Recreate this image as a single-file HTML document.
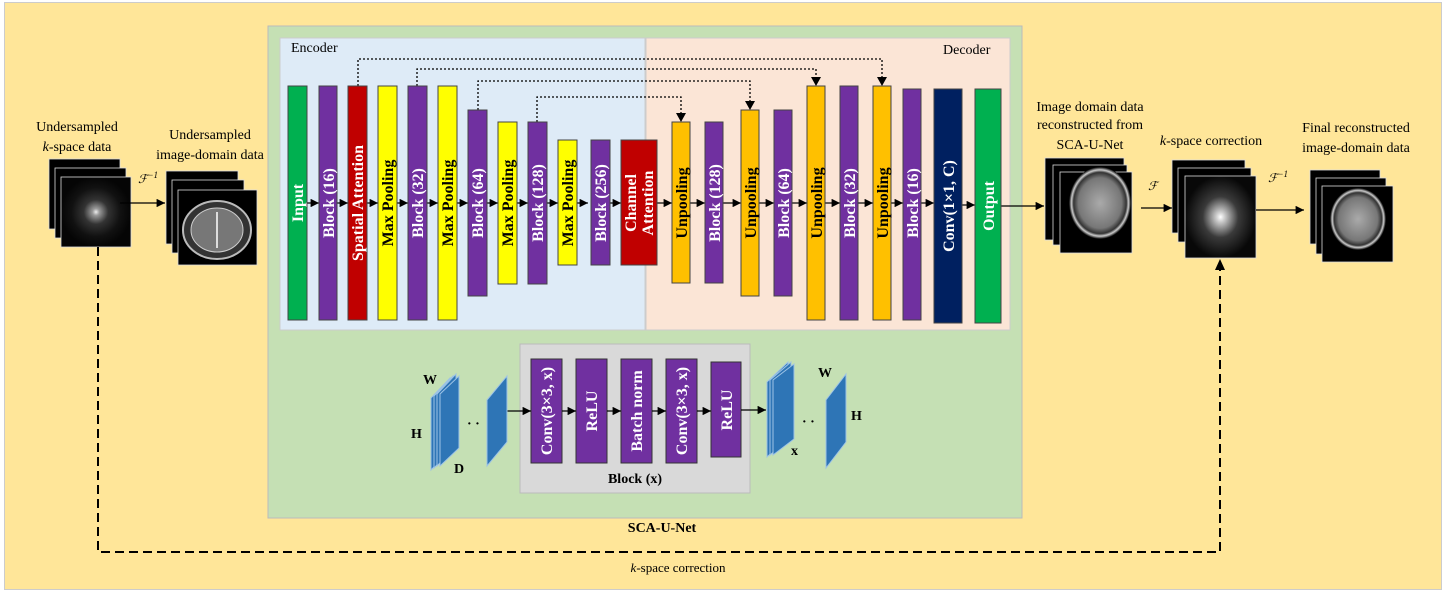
<!DOCTYPE html>
<html><head><meta charset="utf-8"><style>
html,body{margin:0;padding:0;background:#fff;}
svg{display:block;}
text{font-family:"Liberation Serif",serif;}
.bl{font-weight:bold;font-size:14px;}
.bb{font-weight:bold;font-size:16px;}
</style></head><body>
<svg width="1448" height="597" viewBox="0 0 1448 597" xmlns="http://www.w3.org/2000/svg">
<defs>
<marker id="ar" viewBox="0 0 10 10" refX="10" refY="5" markerWidth="7" markerHeight="7" orient="auto"><path d="M0,0L10,5L0,10z" fill="#000"/></marker>
<radialGradient id="ks"><stop offset="0" stop-color="#eee"/><stop offset="0.1" stop-color="#999"/><stop offset="0.35" stop-color="#333"/><stop offset="0.7" stop-color="#111"/><stop offset="1" stop-color="#050505"/></radialGradient>
<radialGradient id="ks2"><stop offset="0" stop-color="#fff"/><stop offset="0.12" stop-color="#ccc"/><stop offset="0.5" stop-color="#3a3a3a"/><stop offset="1" stop-color="#080808"/></radialGradient>
<radialGradient id="br"><stop offset="0" stop-color="#aaa"/><stop offset="0.7" stop-color="#777"/><stop offset="0.85" stop-color="#333"/><stop offset="0.92" stop-color="#ccc"/><stop offset="1" stop-color="#000"/></radialGradient>
</defs>
<rect x="4.5" y="2.5" width="1437" height="587" fill="#FFE699" stroke="#ccc"/>
<rect x="268" y="26" width="754" height="492" fill="#C5E0B4" stroke="#bbb"/>
<rect x="280" y="38" width="365" height="292" fill="#DEEBF7" stroke="#ccc"/>
<rect x="646" y="38" width="364" height="292" fill="#FBE5D6" stroke="#ccc"/>
<text x="291" y="52" font-size="14">Encoder</text>
<text x="943" y="54" font-size="14">Decoder</text>

<g fill="none" stroke="#000" stroke-width="1.3" stroke-dasharray="2,2">
<path d="M358,86V59H882V84"/>
<path d="M417,86V69H816V84"/>
<path d="M478,110V81H750V108"/>
<path d="M537,122V97H681V120"/>
</g>
<g fill="#000">
<path d="M877,77L887,77L882,86z"/><path d="M811,77L821,77L816,86z"/><path d="M745,101L755,101L750,110z"/><path d="M676,113L686,113L681,122z"/>
</g>

<g stroke="#000" stroke-width="1.2" marker-end="url(#ar)">
<line x1="307" y1="203" x2="319" y2="203"/><line x1="337" y1="203" x2="348" y2="203"/><line x1="367" y1="203" x2="378" y2="203"/><line x1="397" y1="203" x2="408" y2="203"/><line x1="427" y1="203" x2="438" y2="203"/><line x1="457" y1="203" x2="468" y2="203"/><line x1="487" y1="203" x2="498" y2="203"/><line x1="517" y1="203" x2="528" y2="203"/><line x1="547" y1="203" x2="558" y2="203"/><line x1="577" y1="203" x2="588" y2="203"/><line x1="610" y1="203" x2="621" y2="203"/>
<line x1="657" y1="203" x2="672" y2="203"/><line x1="690" y1="203" x2="705" y2="203"/><line x1="723" y1="203" x2="741" y2="203"/><line x1="759" y1="203" x2="774" y2="203"/><line x1="792" y1="203" x2="807" y2="203"/><line x1="825" y1="203" x2="840" y2="203"/><line x1="858" y1="203" x2="873" y2="203"/><line x1="891" y1="203" x2="903" y2="203"/><line x1="921" y1="203" x2="934" y2="203"/><line x1="962" y1="205" x2="975" y2="205"/>
<line x1="1001" y1="206" x2="1044" y2="206"/>
</g>

<g stroke="#444" stroke-width="1">
<rect x="288" y="86" width="19" height="234" fill="#00B050"/>
<rect x="319" y="86" width="18" height="234" fill="#7030A0"/>
<rect x="348" y="86" width="19" height="234" fill="#C00000"/>
<rect x="378" y="86" width="19" height="234" fill="#FFFF00"/>
<rect x="408" y="86" width="19" height="234" fill="#7030A0"/>
<rect x="438" y="86" width="19" height="234" fill="#FFFF00"/>
<rect x="468" y="110" width="19" height="186" fill="#7030A0"/>
<rect x="498" y="122" width="19" height="162" fill="#FFFF00"/>
<rect x="528" y="122" width="19" height="162" fill="#7030A0"/>
<rect x="558" y="140" width="19" height="125" fill="#FFFF00"/>
<rect x="591" y="140" width="19" height="125" fill="#7030A0"/>
<rect x="621" y="140" width="36" height="125" fill="#C00000"/>
<rect x="672" y="122" width="18" height="161" fill="#FFC000"/>
<rect x="705" y="122" width="18" height="161" fill="#7030A0"/>
<rect x="741" y="110" width="18" height="186" fill="#FFC000"/>
<rect x="774" y="110" width="18" height="186" fill="#7030A0"/>
<rect x="807" y="86" width="18" height="234" fill="#FFC000"/>
<rect x="840" y="86" width="18" height="234" fill="#7030A0"/>
<rect x="873" y="86" width="18" height="234" fill="#FFC000"/>
<rect x="903" y="89" width="18" height="231" fill="#7030A0"/>
<rect x="934" y="89" width="28" height="234" fill="#002060"/>
<rect x="975" y="89" width="26" height="234" fill="#00B050"/>
</g>
<g class="bb" text-anchor="middle">
<text transform="translate(303,203) rotate(-90)" fill="#fff">Input</text>
<text transform="translate(334,203) rotate(-90)" fill="#fff">Block (16)</text>
<text transform="translate(363,203) rotate(-90)" fill="#fff">Spatial Attention</text>
<text transform="translate(393,203) rotate(-90)" fill="#000">Max Pooling</text>
<text transform="translate(423,203) rotate(-90)" fill="#fff">Block (32)</text>
<text transform="translate(453,203) rotate(-90)" fill="#000">Max Pooling</text>
<text transform="translate(483,203) rotate(-90)" fill="#fff">Block (64)</text>
<text transform="translate(513,203) rotate(-90)" fill="#000">Max Pooling</text>
<text transform="translate(543,203) rotate(-90)" fill="#fff">Block (128)</text>
<text transform="translate(573,203) rotate(-90)" fill="#000">Max Pooling</text>
<text transform="translate(606,203) rotate(-90)" fill="#fff">Block (256)</text>
<text transform="translate(636,203) rotate(-90)" fill="#fff">Channel</text>
<text transform="translate(653,203) rotate(-90)" fill="#fff">Attention</text>
<text transform="translate(687,203) rotate(-90)" fill="#000">Unpooling</text>
<text transform="translate(720,203) rotate(-90)" fill="#fff">Block (128)</text>
<text transform="translate(756,203) rotate(-90)" fill="#000">Unpooling</text>
<text transform="translate(789,203) rotate(-90)" fill="#fff">Block (64)</text>
<text transform="translate(822,203) rotate(-90)" fill="#000">Unpooling</text>
<text transform="translate(855,203) rotate(-90)" fill="#fff">Block (32)</text>
<text transform="translate(888,203) rotate(-90)" fill="#000">Unpooling</text>
<text transform="translate(918,203) rotate(-90)" fill="#fff">Block (16)</text>
<text transform="translate(954,206) rotate(-90)" fill="#fff">Conv(1×1, C)</text>
<text transform="translate(994,206) rotate(-90)" fill="#fff">Output</text>
</g>

<rect x="520" y="344" width="230" height="149" fill="#D9D9D9" stroke="#bbb"/>
<g stroke="#333" fill="#7030A0">
<rect x="531" y="359" width="31" height="104"/><rect x="576" y="359" width="31" height="104"/><rect x="621" y="359" width="31" height="104"/><rect x="666" y="359" width="31" height="104"/><rect x="711" y="362" width="30" height="95"/>
</g>
<g class="bb" fill="#fff" text-anchor="middle">
<text transform="translate(552,411) rotate(-90)">Conv(3×3, x)</text>
<text transform="translate(597,411) rotate(-90)">ReLU</text>
<text transform="translate(642,411) rotate(-90)">Batch norm</text>
<text transform="translate(687,411) rotate(-90)">Conv(3×3, x)</text>
<text transform="translate(732,410) rotate(-90)">ReLU</text>
</g>
<text x="635" y="483" class="bl" text-anchor="middle">Block (x)</text>
<g stroke="#000" stroke-width="1.2" marker-end="url(#ar)">
<line x1="507" y1="411" x2="531" y2="411"/><line x1="562" y1="411" x2="576" y2="411"/><line x1="607" y1="411" x2="621" y2="411"/><line x1="652" y1="411" x2="666" y2="411"/><line x1="697" y1="411" x2="711" y2="411"/><line x1="741" y1="410" x2="766" y2="410"/>
</g>
<g fill="#2E75B6" stroke="#9DC3E6" stroke-width="1">
<path d="M431,398L450,378V450L431,470z"/><path d="M434,396L453,376V448L434,468z"/><path d="M437,394L456,374V446L437,466z"/><path d="M440,394L459,376V448L440,466z"/>
<path d="M487,400L507,376V442L487,466z"/>
<path d="M767,382L788,362V437L767,457z"/><path d="M770,380L791,362V437L770,455z"/><path d="M773,380L794,364V439L773,455z"/>
<path d="M826,400L846,374V442L826,468z"/>
</g>
<g class="bl" font-size="15px">
<text x="423" y="384">W</text><text x="411" y="438">H</text><text x="454" y="473">D</text><text x="467" y="428">· ·</text>
<text x="818" y="377">W</text><text x="851" y="420">H</text><text x="791" y="455">x</text><text x="802" y="426">· ·</text>
</g>
<text x="662" y="532" class="bl" font-size="16px" text-anchor="middle">SCA-U-Net</text>

<g stroke="#ddd" stroke-width="0.8">
<rect x="49" y="159" width="71" height="70" fill="#000"/>
<rect x="55" y="168" width="71" height="70" fill="#000"/>
<rect x="61" y="177" width="70" height="70" fill="url(#ks)"/>
<rect x="166" y="171" width="72" height="73" fill="#000"/>
<rect x="172" y="180" width="72" height="73" fill="#000"/>
<rect x="178" y="190" width="79" height="75" fill="#000"/>
</g>
<ellipse cx="217" cy="230" rx="34" ry="29" fill="#333" stroke="#bbb" stroke-width="2"/>
<ellipse cx="217" cy="230" rx="26" ry="22" fill="#777" stroke="#ccc" stroke-width="1"/>
<line x1="217" y1="212" x2="217" y2="248" stroke="#ddd" stroke-width="2"/>
<line x1="120" y1="203" x2="165" y2="203" stroke="#000" stroke-width="1.2" marker-end="url(#ar)"/>
<text x="138" y="183" font-size="12" font-style="italic">ℱ<tspan font-size="9" dy="-5">−1</tspan></text>
<g font-size="14" text-anchor="middle">
<text x="77" y="131">Undersampled</text><text x="77" y="151"><tspan font-style="italic">k</tspan>-space data</text>
<text x="210" y="139">Undersampled</text><text x="210" y="159">image-domain data</text>
</g>

<g stroke="#ddd" stroke-width="0.8">
<rect x="1045" y="158" width="79" height="82" fill="#000"/>
<rect x="1053" y="165" width="74" height="80" fill="#000"/>
<rect x="1060" y="172" width="72" height="81" fill="#000"/>
<rect x="1172" y="160" width="73" height="73" fill="#000"/>
<rect x="1178" y="168" width="73" height="74" fill="#000"/>
<rect x="1185" y="176" width="71" height="82" fill="url(#ks2)"/>
<rect x="1310" y="170" width="70" height="74" fill="#000"/>
<rect x="1316" y="178" width="70" height="76" fill="#000"/>
<rect x="1322" y="186" width="71" height="76" fill="#000"/>
</g>
<ellipse cx="1100" cy="203" rx="31" ry="36" fill="url(#br)"/>
<ellipse cx="1358" cy="219" rx="28" ry="31" fill="url(#br)"/>
<line x1="1141" y1="208" x2="1172" y2="208" stroke="#000" stroke-width="1.2" marker-end="url(#ar)"/>
<line x1="1256" y1="210" x2="1304" y2="210" stroke="#000" stroke-width="1.2" marker-end="url(#ar)"/>
<text x="1148" y="190" font-size="12" font-style="italic">ℱ</text>
<text x="1268" y="182" font-size="12" font-style="italic">ℱ<tspan font-size="9" dy="-5">−1</tspan></text>
<g font-size="14" text-anchor="middle">
<text x="1090" y="111">Image domain data</text><text x="1090" y="129">reconstructed from</text><text x="1090" y="149">SCA-U-Net</text>
<text x="1211" y="145"><tspan font-style="italic">k</tspan>-space correction</text>
<text x="1356" y="132">Final reconstructed</text><text x="1356" y="152">image-domain data</text>
</g>

<path d="M98,247V552H1220V268" fill="none" stroke="#000" stroke-width="2" stroke-dasharray="9,5"/>
<path d="M1215,270L1225,270L1220,259z" fill="#000"/>
<text x="678" y="572" font-size="13" text-anchor="middle"><tspan font-style="italic">k</tspan>-space correction</text>
</svg>
</body></html>
